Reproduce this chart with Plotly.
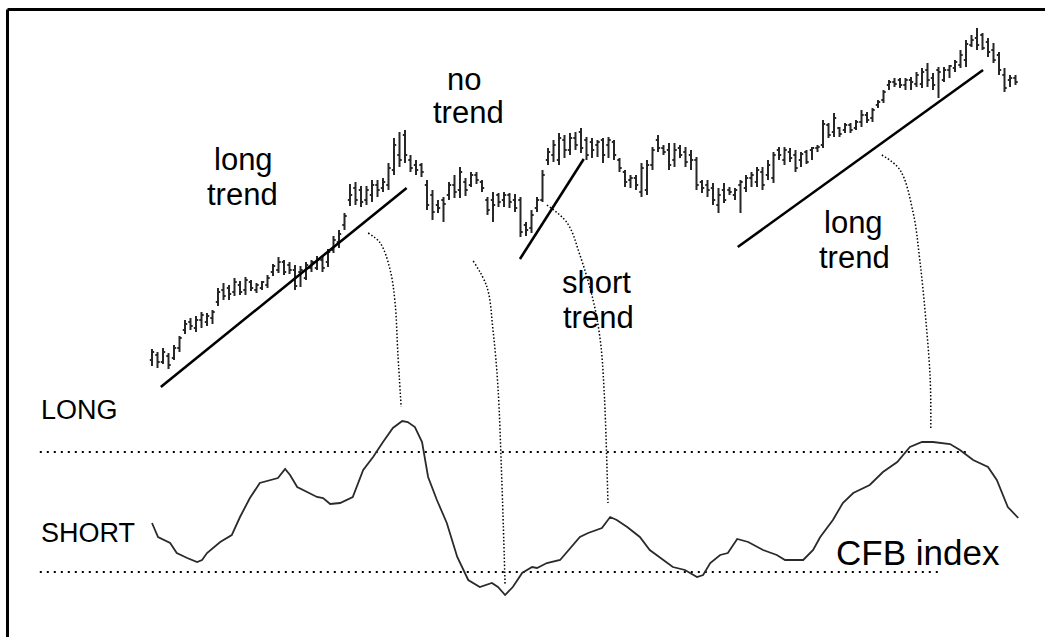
import plotly.graph_objects as go

# ---------------------------------------------------------------------------
# Price bars (bar index, arbitrary price units)
# ---------------------------------------------------------------------------

bar_high = [
    51, 48, 52, 47, 55, 64, 80, 82, 84, 88,
    87, 90, 112, 117, 115, 122, 119, 123, 120, 117,
    119, 125, 136, 143, 140, 138, 135, 134, 138, 140,
    144, 143, 151, 164, 170, 187, 216, 218, 214, 214,
    220, 220, 222, 237, 262, 268, 270, 245, 240, 237,
    220, 210, 200, 203, 218, 225, 233, 222, 228, 228,
    220, 203, 208, 207, 208, 207, 206, 203, 178, 190,
    203, 230, 252, 260, 267, 265, 267, 268, 272, 263,
    262, 260, 262, 263, 260, 242, 230, 225, 225, 237,
    240, 253, 265, 255, 257, 257, 255, 253, 250, 243,
    220, 220, 217, 212, 217, 213, 212, 220, 225, 228,
    233, 233, 240, 248, 253, 253, 252, 250, 248, 250,
    253, 255, 280, 277, 287, 273, 277, 277, 280, 290,
    288, 292, 300, 310, 320, 322, 322, 322, 323, 328,
    332, 337, 327, 333, 333, 335, 340, 350, 360, 365,
    372, 367, 362, 357, 348, 332, 325, 325,
]
bar_low = [
    34, 32, 36, 31, 40, 48, 66, 70, 68, 72,
    74, 76, 94, 100, 100, 104, 105, 105, 109, 107,
    110, 112, 124, 127, 125, 126, 110, 113, 120, 128,
    130, 128, 133, 147, 152, 170, 194, 195, 193, 195,
    198, 203, 208, 210, 225, 233, 237, 228, 225, 223,
    190, 180, 187, 178, 200, 202, 202, 204, 213, 216,
    208, 185, 178, 193, 193, 192, 188, 163, 164, 167,
    188, 198, 235, 238, 235, 242, 245, 250, 247, 240,
    242, 243, 237, 242, 240, 228, 213, 212, 210, 203,
    205, 230, 248, 245, 230, 233, 242, 233, 230, 210,
    207, 203, 195, 187, 197, 205, 200, 187, 208, 213,
    213, 210, 220, 217, 240, 235, 238, 228, 233, 236,
    240, 248, 252, 262, 263, 263, 267, 267, 270, 273,
    277, 278, 292, 297, 310, 313, 312, 310, 310, 313,
    312, 313, 310, 302, 318, 322, 328, 332, 333, 353,
    350, 350, 343, 337, 325, 308, 313, 315,
]
bar_open = [
    40, 45, 38, 44, 42, 52, 70, 78, 72, 80,
    78, 82, 98, 110, 112, 108, 115, 110, 118, 110,
    112, 115, 128, 130, 138, 135, 130, 128, 122, 132,
    132, 140, 138, 150, 158, 175, 200, 212, 210, 200,
    205, 215, 212, 215, 230, 245, 265, 240, 235, 235,
    215, 205, 195, 200, 205, 215, 210, 218, 215, 225,
    218, 200, 200, 205, 200, 205, 200, 200, 175, 172,
    192, 200, 240, 245, 240, 260, 250, 262, 268, 260,
    258, 255, 260, 255, 258, 240, 228, 220, 222, 208,
    210, 235, 260, 252, 250, 240, 252, 248, 245, 240,
    218, 215, 212, 195, 210, 210, 205, 215, 212, 222,
    218, 228, 225, 222, 250, 240, 248, 245, 240, 248,
    250, 252, 255, 275, 268, 272, 270, 275, 272, 278,
    285, 282, 295, 300, 315, 318, 320, 315, 320, 316,
    316, 330, 322, 330, 320, 330, 332, 335, 340, 355,
    362, 365, 358, 350, 345, 325, 320, 322,
]
bar_close = [
    48, 38, 48, 35, 52, 62, 76, 74, 80, 85,
    84, 88, 108, 104, 106, 118, 108, 120, 112, 115,
    118, 122, 134, 138, 128, 130, 114, 130, 135, 138,
    140, 132, 148, 160, 166, 184, 205, 200, 198, 210,
    215, 210, 218, 232, 255, 240, 245, 232, 230, 228,
    195, 188, 192, 196, 215, 208, 228, 210, 225, 220,
    212, 190, 195, 198, 205, 198, 192, 168, 170, 185,
    200, 225, 248, 255, 262, 250, 262, 255, 252, 245,
    250, 258, 245, 260, 245, 232, 218, 222, 215, 232,
    235, 250, 252, 248, 235, 250, 245, 238, 240, 215,
    212, 210, 200, 205, 200, 208, 210, 218, 222, 225,
    230, 215, 235, 245, 245, 250, 242, 232, 246, 238,
    252, 253, 276, 265, 282, 266, 275, 270, 278, 285,
    280, 290, 298, 308, 318, 316, 315, 320, 318, 325,
    328, 320, 315, 328, 330, 334, 338, 345, 356, 360,
    355, 352, 348, 340, 330, 312, 322, 318,
]
bar_index = list(range(len(bar_high)))

# Trend lines drawn under the bars: (start, end) in bar index / price
trend_x = [[1.6, 46.3], [66.9, 78.5], [106.5, 151.1]]
trend_y = [[13, 212], [141, 241], [153, 330]]

# Dotted connectors from each trend to its CFB reading
link_x = [
    [39.3, 41.5, 43.3, 44.2, 44.7, 45.3],
    [58.4, 60.9, 62.0, 62.9, 63.6, 64.2],
    [71.8, 75.5, 77.8, 80.2, 81.5, 82.2, 82.9],
    [132.7, 136.0, 138.4, 139.6, 140.7, 141.5, 141.6],
]
link_y = [
    [167, 157, 130, 97, 47, -7],
    [139, 113, 70, 13, -80, -185],
    [195, 177, 145, 100, 60, 10, -103],
    [245, 230, 187, 140, 80, 20, -28],
]

# ---------------------------------------------------------------------------
# CFB index (lower panel, own scale)
# ---------------------------------------------------------------------------

cfb_x = [
    0.0, 1.1, 3.3, 4.5, 6.4, 8.2, 9.1, 10.0, 12.4, 14.5,
    16.0, 17.8, 19.6, 20.9, 22.9, 24.2, 25.1, 26.4, 28.2, 30.0,
    31.1, 32.4, 34.2, 36.5, 38.4, 40.2, 42.0, 43.8, 45.5, 46.5,
    47.8, 49.1, 50.2, 51.8, 53.6, 55.5, 57.5, 59.6, 61.8, 62.9,
    64.2, 65.6, 67.3, 69.1, 70.0, 71.8, 74.2, 76.0, 77.8, 79.3,
    81.8, 83.3, 84.5, 86.4, 88.7, 90.5, 92.4, 94.7, 96.9, 99.1,
    100.2, 101.5, 103.3, 104.7, 106.4, 108.4, 111.1, 113.6, 115.1, 118.4,
    120.2, 121.5, 123.8, 125.6, 127.5, 130.5, 132.9, 135.5, 137.8, 140.0,
    142.0, 145.1, 146.9, 149.3, 152.0, 153.6, 155.6, 157.5,
]
cfb_y = [
    89, 75, 69, 59, 54, 50, 52, 59, 70, 77,
    95, 114, 129, 131, 134, 143, 137, 125, 120, 115,
    114, 108, 109, 115, 142, 155, 170, 184, 191, 190,
    185, 170, 135, 112, 89, 55, 32, 25, 29, 25,
    17, 25, 39, 45, 44, 49, 52, 64, 75, 79,
    84, 95, 92, 85, 75, 62, 54, 45, 42, 35,
    37, 49, 57, 59, 73, 70, 62, 57, 52, 52,
    62, 75, 92, 109, 119, 127, 140, 150, 165, 170,
    170, 168, 162, 152, 145, 132, 105, 94,
]

level_values = [160, 40]        # LONG / SHORT thresholds
level_start = [-20.4, -20.4]
level_end = [148.7, 142.9]

FONT = "Liberation Sans, Arial, sans-serif"
INK = "#000000"
BAR_INK = "#262626"

fig = go.Figure()

fig.add_trace(go.Ohlc(
    x=bar_index, open=bar_open, high=bar_high, low=bar_low, close=bar_close,
    increasing_line_color=BAR_INK, decreasing_line_color=BAR_INK,
    line_width=2, tickwidth=0.4, hoverinfo="skip", showlegend=False,
))

for xs, ys in zip(trend_x, trend_y):
    fig.add_trace(go.Scatter(
        x=xs, y=ys, mode="lines", line=dict(color=INK, width=2.6),
        hoverinfo="skip", showlegend=False,
    ))

for xs, ys in zip(link_x, link_y):
    fig.add_trace(go.Scatter(
        x=xs, y=ys, mode="lines",
        line=dict(color=INK, width=1.5, dash="1.5px,2px", shape="spline"),
        hoverinfo="skip", showlegend=False,
    ))

for v, x0, x1 in zip(level_values, level_start, level_end):
    fig.add_trace(go.Scatter(
        x=[x0, x1], y=[v, v], yaxis="y2", mode="lines",
        line=dict(color=INK, width=2.2, dash="2px,5px"),
        hoverinfo="skip", showlegend=False,
    ))

fig.add_trace(go.Scatter(
    x=cfb_x, y=cfb_y, yaxis="y2", mode="lines",
    line=dict(color="#2a2a2a", width=1.8),
    hoverinfo="skip", showlegend=False,
))

W, H = 1045, 637


def label(text, px, py, size):
    return dict(
        text=text, x=px / W, y=1 - py / H, xref="paper", yref="paper",
        xanchor="center", yanchor="middle", showarrow=False,
        font=dict(family=FONT, size=size, color=INK),
    )


annotations = [
    label("long", 243, 159.5, 31),
    label("trend", 242, 194.5, 31),
    label("no", 464, 79, 31),
    label("trend", 468, 112, 31),
    label("short", 596, 282.5, 31),
    label("trend", 598, 317.5, 31),
    label("long", 853, 222.5, 31),
    label("trend", 854, 257.5, 31),
    label("LONG", 79, 410.5, 27),
    label("SHORT", 88, 532.5, 27),
    label("CFB index", 918, 552.5, 35),
]

# frame: only top and left edges fall inside the picture
frame = [
    dict(type="line", xref="paper", yref="paper",
         x0=7.5 / W, x1=1, y0=1 - 9.5 / H, y1=1 - 9.5 / H,
         line=dict(color=INK, width=3)),
    dict(type="line", xref="paper", yref="paper",
         x0=7.5 / W, x1=7.5 / W, y0=1 - 9.5 / H, y1=0,
         line=dict(color=INK, width=3)),
]

fig.update_layout(
    width=W, height=H, autosize=False,
    margin=dict(l=0, r=0, t=0, b=0),
    paper_bgcolor="white", plot_bgcolor="white",
    showlegend=False,
    xaxis=dict(range=[-152 / 5.5, (W - 152) / 5.5], visible=False,
               rangeslider=dict(visible=False), fixedrange=True),
    yaxis=dict(range=[400 - H, 400], visible=False, fixedrange=True),
    yaxis2=dict(range=[612 - H, 612], visible=False, overlaying="y",
                fixedrange=True),
    annotations=annotations,
    shapes=frame,
)

# page body margin would push the figure 8px off the window corner
fig.write_html(
    "out.html",
    config={"displayModeBar": False, "staticPlot": True},
    post_script="document.body.style.margin='0px';"
                "document.body.style.overflow='hidden';"
                "document.documentElement.style.overflow='hidden';",
)
